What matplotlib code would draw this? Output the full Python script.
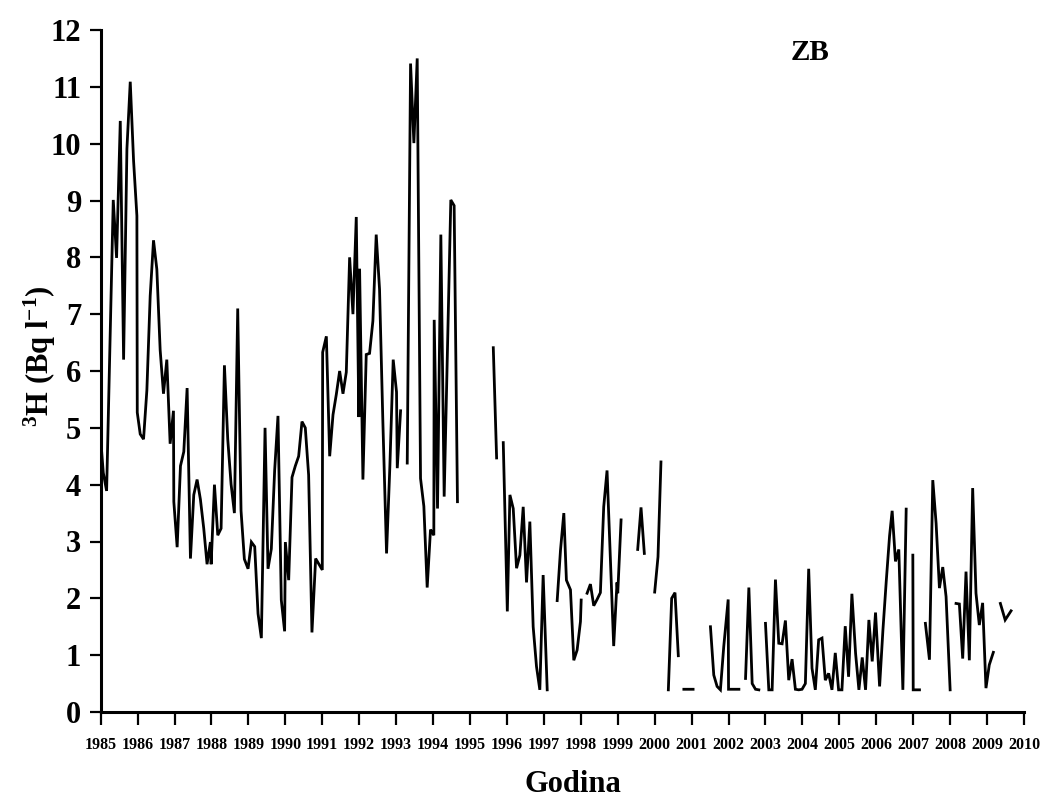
import numpy as np
import matplotlib
matplotlib.use("Agg")
import matplotlib.pyplot as plt

plt.rcParams['font.family'] = ['Liberation Serif', 'DejaVu Serif']
plt.rcParams['font.weight'] = 'bold'
plt.rcParams['mathtext.fontset'] = 'custom'
plt.rcParams['mathtext.rm'] = 'Liberation Serif:bold'
plt.rcParams['mathtext.it'] = 'Liberation Serif:bold'
plt.rcParams['mathtext.bf'] = 'Liberation Serif:bold'

nan = np.nan

# ---- data: decimal year and 3H activity (Bq/l); NaN marks a gap ----
years_1985_1994 = [
    1985.00, 1985.07, 1985.16, 1985.34, 1985.43, 1985.53, 1985.62, 1985.71, 1985.80, 1985.89,
    1985.98, 1985.99, 1986.07, 1986.16, 1986.25, 1986.34, 1986.43, 1986.52, 1986.61, 1986.70,
    1986.79, 1986.88, 1986.97, 1986.98, 1987.07, 1987.16, 1987.25, 1987.34, 1987.43, 1987.52,
    1987.61, 1987.70, 1987.79, 1987.88, 1987.97, 1987.99, 1988.08, 1988.17, 1988.26, 1988.35,
    1988.44, 1988.53, 1988.62, 1988.71, 1988.80, 1988.89, 1988.99, 1989.08, 1989.17, 1989.26,
    1989.35, 1989.45, 1989.53, 1989.62, 1989.71, 1989.80, 1989.89, 1989.98, 1990.00, 1990.09,
    1990.18, 1990.27, 1990.36, 1990.45, 1990.54, 1990.63, 1990.72, 1990.82, 1990.91, 1991.00,
    1991.01, 1991.11, 1991.20, 1991.29, 1991.38, 1991.47, 1991.56, 1991.65, 1991.74, 1991.83,
    1991.92, 1991.99, 1992.01, 1992.10, 1992.19, 1992.28, 1992.37, 1992.46, 1992.55, 1992.64,
    1992.74, 1992.83, 1992.92, 1993.01, 1993.03, 1993.12, 1993.20,
    1993.30, 1993.39, 1993.48, 1993.57, 1993.66, 1993.75, 1993.84, 1993.93, 1994.02, 1994.03,
    1994.12, 1994.21, 1994.30, 1994.48, 1994.57, 1994.66]
h3_1985_1994 = [
    4.80, 4.21, 3.89, 9.01, 7.99, 10.40, 6.20, 9.91, 11.09, 9.70,
    8.73, 5.27, 4.89, 4.80, 5.66, 7.32, 8.30, 7.79, 6.37, 5.60,
    6.20, 4.72, 5.30, 3.70, 2.90, 4.33, 4.58, 5.70, 2.70, 3.82,
    4.09, 3.74, 3.23, 2.60, 2.99, 2.60, 4.00, 3.11, 3.23, 6.10,
    4.80, 4.01, 3.50, 7.10, 3.54, 2.69, 2.52, 2.99, 2.91, 1.73,
    1.30, 5.00, 2.52, 2.87, 4.25, 5.21, 1.97, 1.42, 2.99, 2.32,
    4.13, 4.33, 4.50, 5.11, 5.00, 4.17, 1.40, 2.70, 2.60, 2.50,
    6.33, 6.61, 4.50, 5.23, 5.59, 6.00, 5.60, 5.98, 8.00, 7.00,
    8.71, 5.19, 7.80, 4.09, 6.29, 6.31, 6.88, 8.40, 7.44, 5.11,
    2.79, 4.33, 6.20, 5.63, 4.29, 5.30, nan,
    4.38, 11.41, 10.01, 11.50, 4.11, 3.62, 2.19, 3.21, 3.11, 6.90,
    3.58, 8.40, 3.79, 9.01, 8.91, 3.70]

years_1995_2000 = [
    1995.63, 1995.72, 1995.81,
    1995.90, 1996.01, 1996.08, 1996.17, 1996.26, 1996.35, 1996.44, 1996.53, 1996.62, 1996.71,
    1996.80, 1996.89, 1996.98, 1997.09, 1997.20,
    1997.36, 1997.45, 1997.54, 1997.61, 1997.72, 1997.81, 1997.90, 1997.99, 1998.01, 1998.09,
    1998.17, 1998.26, 1998.35, 1998.44, 1998.53, 1998.62, 1998.71, 1998.80, 1998.89, 1998.98,
    1999.00, 1999.09, 1999.30,
    1999.54, 1999.63, 1999.72, 1999.86,
    2000.00, 2000.09, 2000.17, 2000.27]
h3_1995_2000 = [
    6.41, 4.47, nan,
    4.74, 1.77, 3.82, 3.58, 2.53, 2.76, 3.61, 2.28, 3.35, 1.50,
    0.80, 0.39, 2.41, 0.39, nan,
    1.96, 2.85, 3.50, 2.32, 2.15, 0.91, 1.09, 1.59, 1.97, nan,
    2.09, 2.25, 1.87, 1.98, 2.10, 3.61, 4.25, 2.73, 1.16, 2.28,
    2.09, 3.38, nan,
    2.86, 3.60, 2.79, nan,
    2.11, 2.73, 4.40, nan]

years_2000_2009 = [
    2000.37, 2000.46, 2000.55, 2000.64, 2000.72,
    2000.79, 2000.91, 2001.04, 2001.30,
    2001.51, 2001.60, 2001.69, 2001.78, 2001.87, 2001.99, 2002.00, 2002.08, 2002.17, 2002.28,
    2002.37,
    2002.46, 2002.55, 2002.64, 2002.73, 2002.82, 2002.91,
    2003.00, 2003.09, 2003.18, 2003.27, 2003.36, 2003.45, 2003.54, 2003.63, 2003.72, 2003.81,
    2003.90, 2003.99, 2004.08, 2004.17, 2004.26, 2004.35, 2004.44, 2004.53, 2004.62, 2004.71,
    2004.80, 2004.89, 2004.98, 2005.07, 2005.16, 2005.25, 2005.34, 2005.44, 2005.53, 2005.62,
    2005.71, 2005.80, 2005.89, 2005.98, 2006.09, 2006.18, 2006.27, 2006.36, 2006.43, 2006.52,
    2006.61, 2006.72, 2006.81, 2006.90,
    2006.99, 2007.00, 2007.08, 2007.17, 2007.25,
    2007.33, 2007.44, 2007.53, 2007.62, 2007.71, 2007.80, 2007.89, 2008.00, 2008.08,
    2008.16, 2008.25, 2008.34, 2008.43, 2008.52, 2008.61, 2008.70, 2008.79, 2008.88, 2008.97,
    2009.06, 2009.17, 2009.25,
    2009.36, 2009.49, 2009.65]
h3_2000_2009 = [
    0.39, 2.00, 2.10, 0.99, nan,
    0.40, 0.40, 0.40, nan,
    1.50, 0.65, 0.45, 0.39, 1.15, 1.98, 0.40, 0.40, 0.40, 0.40,
    nan,
    0.59, 2.19, 0.50, 0.40, 0.39, nan,
    1.56, 0.39, 0.39, 2.33, 1.21, 1.20, 1.61, 0.56, 0.93, 0.40,
    0.39, 0.40, 0.50, 2.52, 0.77, 0.39, 1.27, 1.30, 0.56, 0.68,
    0.39, 1.04, 0.39, 0.39, 1.51, 0.62, 2.08, 1.03, 0.39, 0.96,
    0.39, 1.62, 0.89, 1.75, 0.45, 1.44, 2.30, 3.10, 3.54, 2.65,
    2.86, 0.39, 3.57, nan,
    2.76, 0.39, 0.39, 0.39, nan,
    1.56, 0.92, 4.08, 3.32, 2.18, 2.55, 2.03, 0.39, nan,
    1.91, 1.90, 0.94, 2.47, 0.91, 3.94, 2.09, 1.53, 1.92, 0.42,
    0.83, 1.05, nan,
    1.91, 1.62, 1.78]

year_ticks = list(range(1985, 2011))
value_ticks = list(range(0, 13))
station_label = "ZB"

t = np.array(years_1985_1994 + [1994.8] + years_1995_2000 + years_2000_2009)
v = np.array(h3_1985_1994 + [nan] + h3_1995_2000 + h3_2000_2009)

W, H = 1041, 798
fig = plt.figure(figsize=(W / 100, H / 100), dpi=100)
x0, x1, y0, y1 = 100.7, 1024, 712, 30
ax = fig.add_axes([x0 / W, 1 - y0 / H, (x1 - x0) / W, (y0 - y1) / H])

ax.plot(t, v, color='black', lw=2.0, solid_joinstyle='miter')

ax.set_xlim(1985, 2010)
ax.set_ylim(0, 12)
for s in ('top', 'right'):
    ax.spines[s].set_visible(False)
for s in ('left', 'bottom'):
    ax.spines[s].set_linewidth(2.2)

ax.set_xticks(year_ticks)
ax.set_xticklabels([str(y) for y in year_ticks], fontsize=11.5, fontweight='bold')
ax.set_yticks(value_ticks)
ax.set_yticklabels([str(y) for y in value_ticks], fontsize=22, fontweight='bold')
ax.tick_params(axis='x', direction='out', length=9, width=1.6, pad=9)
ax.tick_params(axis='y', direction='out', length=8, width=1.6, pad=6)

fig.text(573 / W, 1 - 785 / H, 'Godina', fontsize=22, fontweight='bold',
         ha='center', va='center')
fig.text(40 / W, 1 - 356 / H, r'$^{3}$H (Bq l$^{-1}$)', fontsize=22,
         fontweight='bold', rotation=90, ha='center', va='center')
fig.text(810 / W, 1 - 52 / H, station_label, fontsize=21, fontweight='bold',
         ha='center', va='center')

fig.savefig('out.png', dpi=100)
